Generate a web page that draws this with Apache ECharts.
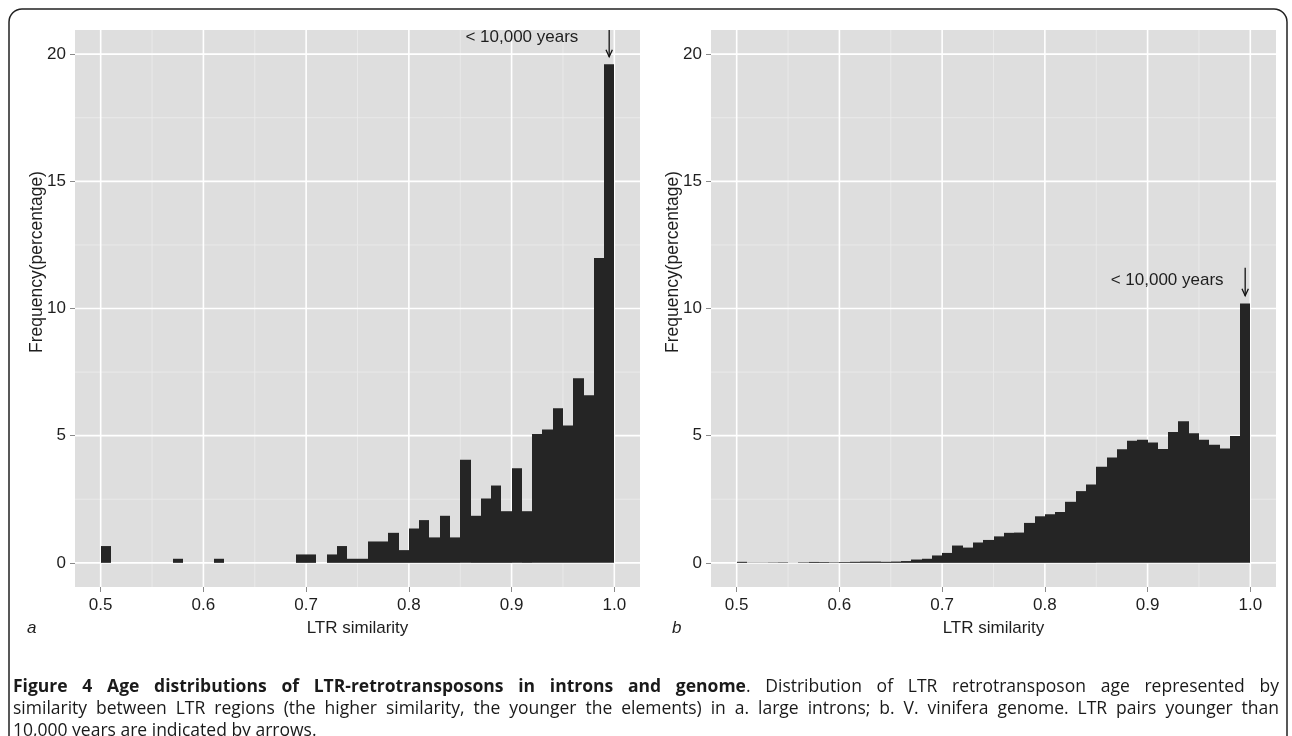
<!DOCTYPE html>
<html><head><meta charset="utf-8">
<script src="https://cdn.jsdelivr.net/npm/echarts@6/dist/echarts.min.js"></script>
<style>html,body{margin:0;padding:0;background:#fff}#c{width:1292px;height:736px}</style>
</head><body><div id="c"></div>
<script>
// ---------- data ----------
const binStarts = [0.50,0.51,0.52,0.53,0.54,0.55,0.56,0.57,0.58,0.59,
                   0.60,0.61,0.62,0.63,0.64,0.65,0.66,0.67,0.68,0.69,
                   0.70,0.71,0.72,0.73,0.74,0.75,0.76,0.77,0.78,0.79,
                   0.80,0.81,0.82,0.83,0.84,0.85,0.86,0.87,0.88,0.89,
                   0.90,0.91,0.92,0.93,0.94,0.95,0.96,0.97,0.98,0.99];
const binWidth = 0.01;
// panel a: large introns (percentage)
const intronFreq = [0.66,0,0,0,0,0,0,0.16,0,0,
                    0,0.16,0,0,0,0,0,0,0,0.33,
                    0.33,0,0.33,0.66,0.16,0.16,0.84,0.84,1.18,0.50,
                    1.35,1.68,1.00,1.85,1.00,4.05,1.85,2.53,3.04,2.03,
                    3.72,2.03,5.07,5.24,6.08,5.40,7.26,6.59,11.99,19.60];
// panel b: V. vinifera genome (percentage)
const genomeFreq = [0.04,0.01,0.01,0.015,0.02,0.005,0.02,0.035,0.03,0.02,
                    0.03,0.04,0.05,0.05,0.04,0.05,0.07,0.13,0.16,0.29,
                    0.39,0.68,0.60,0.80,0.90,1.04,1.18,1.19,1.57,1.83,
                    1.91,2.00,2.40,2.82,3.08,3.78,4.14,4.47,4.80,4.84,
                    4.73,4.48,5.14,5.57,5.10,4.84,4.64,4.50,4.99,10.20];
const xTicks = [0.5,0.6,0.7,0.8,0.9,1.0];
const xTickLabels = ['0.5','0.6','0.7','0.8','0.9','1.0'];
const xMinor = [0.55,0.65,0.75,0.85,0.95];
const yTicks = [0,5,10,15,20];
const yTickLabels = ['0','5','10','15','20'];
const yMinor = [2.5,7.5,12.5,17.5];
const panelLetters = ['a','b'];
const xTitle = 'LTR similarity';
const yTitle = 'Frequency(percentage)';
const annText = '< 10,000 years';
const annTextX = [0.965, 0.974];
const annTextY = [20.65, 11.1];
const arrowX = [0.995, 0.995];
const arrowTop = [20.95, 11.6];
const arrowTip = [19.9, 10.5];
const capBold = 'Figure 4 Age distributions of LTR-retrotransposons in introns and genome';
const capRest1 = '. Distribution of LTR retrotransposon age represented by';
const capLine2 = 'similarity between LTR regions (the higher similarity, the younger the elements) in a. large introns; b. V. vinifera genome. LTR pairs younger than';
const capLine3 = '10,000 years are indicated by arrows.';

// ---------- layout ----------
const X_MIN = 0.475, X_MAX = 1.025, Y_MIN = -0.95, Y_MAX = 20.95;
const grids = [{left:75, top:30, width:565, height:557},{left:711, top:30, width:565, height:557}];
const BG = '#dedede', BAR = '#252525', TXT = '#1e1e1e';
const axisFont = 'Liberation Sans';

const chart = echarts.init(document.getElementById('c'), null, {renderer:'canvas'});

function gridLineSeries(gi, vals, dir, color, width) {
  return {
    type:'custom', xAxisIndex:gi, yAxisIndex:gi, z:1, silent:true,
    data: vals.map(v => dir === 'x' ? [v, 0] : [0.5, v]),
    renderItem: function (params, api) {
      const cs = params.coordSys;
      if (dir === 'x') {
        const px = api.coord([api.value(0), 0])[0];
        return {type:'line', shape:{x1:px, y1:cs.y, x2:px, y2:cs.y+cs.height}, style:{stroke:color, lineWidth:width}};
      }
      const py = api.coord([0.5, api.value(1)])[1];
      return {type:'line', shape:{x1:cs.x, y1:py, x2:cs.x+cs.width, y2:py}, style:{stroke:color, lineWidth:width}};
    }
  };
}
function barSeries(gi, freq) {
  return {
    type:'custom', xAxisIndex:gi, yAxisIndex:gi, z:3, silent:true,
    data: binStarts.map((b, i) => [b, freq[i]]),
    renderItem: function (params, api) {
      const x0 = api.value(0), v = api.value(1);
      if (!(v > 0)) return null;
      const p0 = api.coord([x0, 0]);
      const p1 = api.coord([x0 + binWidth, v]);
      const xa = Math.round(p0[0]), xb = Math.round(p1[0]);
      return {type:'rect', shape:{x:xa, y:p1[1], width:xb - xa, height:p0[1]-p1[1]}, style:{fill:BAR, stroke:null}};
    }
  };
}
function annSeries(gi) {
  return {
    type:'custom', xAxisIndex:gi, yAxisIndex:gi, z:5, silent:true, clip:false,
    data: [[annTextX[gi], annTextY[gi], arrowX[gi], arrowTop[gi], arrowTip[gi]]],
    renderItem: function (params, api) {
      const t = api.coord([api.value(0), api.value(1)]);
      const a0 = api.coord([api.value(2), api.value(3)]);
      const a1 = api.coord([api.value(2), api.value(4)]);
      return {type:'group', children:[
        {type:'text', x:t[0], y:t[1], style:{text:annText, fill:TXT, font:'17px "'+axisFont+'"', align:'right', verticalAlign:'middle'}},
        {type:'line', shape:{x1:a0[0], y1:a0[1], x2:a1[0], y2:a1[1]}, style:{stroke:'#111', lineWidth:1.3}},
        {type:'polyline', shape:{points:[[a1[0]-3.2, a1[1]-7],[a1[0], a1[1]],[a1[0]+3.2, a1[1]-7]]}, style:{stroke:'#111', lineWidth:1.3, fill:null}}
      ]};
    }
  };
}

const xAxes = grids.map((g, i) => ({
  type:'value', gridIndex:i, min:X_MIN, max:X_MAX,
  axisLine:{show:false, onZero:false},
  splitLine:{show:false},
  axisTick:{show:true, customValues:xTicks, length:5, lineStyle:{color:'#8a8a8a', width:1}},
  axisLabel:{customValues:xTicks, margin:10, color:TXT, fontSize:17, fontFamily:axisFont,
             formatter: v => xTickLabels[xTicks.findIndex(t => Math.abs(t - v) < 1e-6)] || ''},
  name:xTitle, nameLocation:'middle', nameGap:33,
  nameTextStyle:{color:TXT, fontSize:17, fontFamily:axisFont}
}));
const yAxes = grids.map((g, i) => ({
  type:'value', gridIndex:i, min:Y_MIN, max:Y_MAX,
  axisLine:{show:false, onZero:false},
  splitLine:{show:false},
  axisTick:{show:true, customValues:yTicks, length:5, lineStyle:{color:'#8a8a8a', width:1}},
  axisLabel:{customValues:yTicks, margin:9, color:TXT, fontSize:17, fontFamily:axisFont,
             formatter: v => yTickLabels[yTicks.findIndex(t => Math.abs(t - v) < 1e-6)] || ''}
}));

const series = [];
grids.forEach((g, i) => {
  series.push(gridLineSeries(i, xMinor, 'x', '#ececec', 0.8));
  series.push(gridLineSeries(i, yMinor, 'y', '#ececec', 0.8));
  series.push(gridLineSeries(i, xTicks, 'x', '#ffffff', 1.6));
  series.push(gridLineSeries(i, yTicks, 'y', '#ffffff', 1.6));
  series.push(barSeries(i, i === 0 ? intronFreq : genomeFreq));
  series.push(annSeries(i));
});

// ---------- caption: justified lines, word by word ----------
const capFont = 'Open Sans', capSize = 17.5;
const capLeft = 13, capRight = 1279;
const ctx = document.createElement('canvas').getContext('2d');
const fontOf = bold => (bold ? 'bold ' : '') + capSize + 'px "' + capFont + '"';
function tw(text, bold) { ctx.font = fontOf(bold); return ctx.measureText(text).width; }
const capStyle = (t, bold) => ({text:t, fill:'#1a1a1a', font:fontOf(bold), verticalAlign:'middle', align:'left'});

// words: each word is a list of [segment, bold]
const line1Words = capBold.split(' ').map(w => [[w, true]]);
line1Words[line1Words.length - 1].push([capRest1.charAt(0), false]);
capRest1.slice(1).trim().split(' ').forEach(w => line1Words.push([[w, false]]));
const line2Words = capLine2.split(' ').map(w => [[w, false]]);

function justifiedLine(words, y) {
  const widths = words.map(w => w.reduce((s, seg) => s + tw(seg[0], seg[1]), 0));
  const total = widths.reduce((a, b) => a + b, 0);
  let gap = (capRight - capLeft - total) / (words.length - 1);
  let sc = 1;
  const minGap = tw(' ', false) * 0.8;
  if (gap < minGap) { gap = minGap; sc = (capRight - capLeft) / (total + gap * (words.length - 1)); }
  const els = [];
  let x = 0;
  words.forEach((w, i) => {
    let sx = x;
    w.forEach(seg => {
      els.push({type:'text', x:sx, y:0, silent:true, style:capStyle(seg[0], seg[1])});
      sx += tw(seg[0], seg[1]);
    });
    x += widths[i] + gap;
  });
  return {type:'group', x:capLeft, y:y, scaleX:sc, children:els};
}

const graphic = [
  {type:'rect', shape:{x:9, y:9, width:1278, height:820, r:13}, style:{stroke:'#222', lineWidth:1.5, fill:'none'}, silent:true},
  {type:'text', x:37, y:262, rotation:Math.PI/2, style:{text:yTitle, fill:TXT, font:'17.5px "'+axisFont+'"', align:'center', verticalAlign:'middle'}},
  {type:'text', x:673, y:262, rotation:Math.PI/2, style:{text:yTitle, fill:TXT, font:'17.5px "'+axisFont+'"', align:'center', verticalAlign:'middle'}},
  {type:'text', x:27, y:628, style:{text:panelLetters[0], fill:TXT, font:'italic 17px "'+axisFont+'"', verticalAlign:'middle'}},
  {type:'text', x:672, y:628, style:{text:panelLetters[1], fill:TXT, font:'italic 17px "'+axisFont+'"', verticalAlign:'middle'}},
  justifiedLine(line1Words, 687),
  justifiedLine(line2Words, 709),
  {type:'text', x:capLeft, y:731, silent:true, style:capStyle(capLine3, false)}
];

chart.setOption({
  animation:false,
  backgroundColor:'#ffffff',
  grid: grids.map(g => Object.assign({show:true, backgroundColor:BG, borderWidth:0, containLabel:false}, g)),
  xAxis:xAxes, yAxis:yAxes, series:series, graphic:graphic
});
</script></body></html>
